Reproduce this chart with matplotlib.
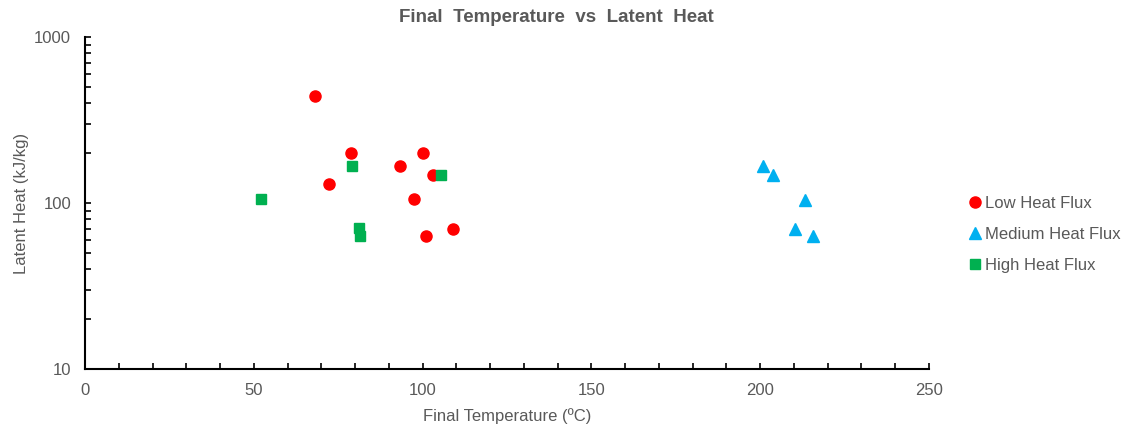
import matplotlib
matplotlib.use("Agg")
import matplotlib.pyplot as plt
from matplotlib.ticker import MultipleLocator, LogLocator, NullFormatter

plt.rcParams['font.family'] = ['Liberation Sans', 'DejaVu Sans']

# data
low_temp = [68.0, 78.9, 100.1, 93.3, 103.2, 72.2, 97.5, 109.1, 100.9]
low_heat = [440, 199, 199, 168, 148, 130, 105, 70, 63.5]
med_temp = [200.8, 203.9, 213.4, 210.2, 215.6]
med_heat = [168, 148, 104, 70, 63.5]
high_temp = [79.0, 105.5, 52.1, 81.2, 81.5]
high_heat = [168, 148, 105, 70.5, 63]

txt = '#595959'

fig = plt.figure(figsize=(11.26, 4.29), dpi=100)
# axes box in pixels: left 85, right 929, top 37, bottom 369
ax = fig.add_axes([85/1126, 1-369/429, (929-85)/1126, (369-37)/429])

ax.plot(low_temp, low_heat, 'o', color='#FF0000', ms=8, label='Low Heat Flux')
ax.plot(med_temp, med_heat, '^', color='#00B0F0', ms=8, label='Medium Heat Flux')
ax.plot(high_temp, high_heat, 's', color='#00B050', ms=7.5, label='High Heat Flux')

ax.set_yscale('log')
ax.set_xlim(0, 250)
ax.set_ylim(10, 1000)
ax.xaxis.set_major_locator(MultipleLocator(50))
ax.xaxis.set_minor_locator(MultipleLocator(10))
ax.yaxis.set_minor_locator(LogLocator(base=10, subs=range(2, 10)))
ax.yaxis.set_minor_formatter(NullFormatter())
ax.set_yticks([10, 100, 1000])
ax.set_yticklabels(['10', '100', '1000'])

for s in ['top', 'right']:
    ax.spines[s].set_visible(False)
for s in ['left', 'bottom']:
    ax.spines[s].set_linewidth(1.5)
    ax.spines[s].set_color('black')

ax.tick_params(which='both', direction='in', width=1.2, color='black',
               labelcolor=txt, labelsize=12)
ax.tick_params(which='major', length=4, pad=10)
ax.tick_params(which='minor', length=4)

ax.set_xlabel('Final Temperature (ºC)', color=txt, fontsize=12, labelpad=7)
ax.set_ylabel('Latent Heat (kJ/kg)', color=txt, fontsize=12, labelpad=4)

fig.text(556/1126, 1-17/429, 'Final  Temperature  vs  Latent  Heat',
         ha='center', va='center', color=txt, fontsize=13.5, fontweight='bold')

ax.legend(loc='upper left', bbox_to_anchor=(969/1126, 1-196/429),
          bbox_transform=fig.transFigure, frameon=False, fontsize=12,
          labelcolor=txt, handlelength=0.7, handletextpad=0.25,
          labelspacing=0.95, borderaxespad=0, borderpad=0)

fig.savefig('out.png', dpi=100)
